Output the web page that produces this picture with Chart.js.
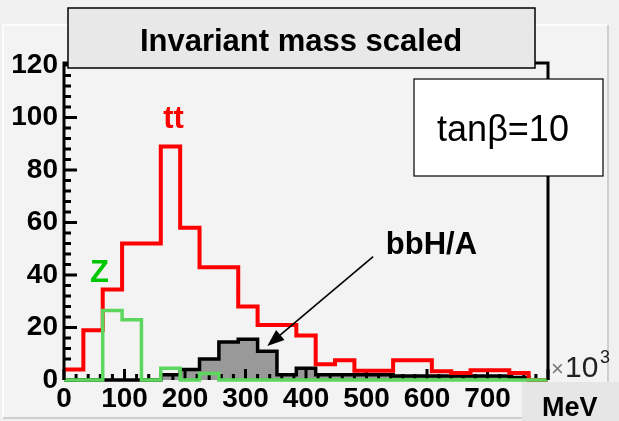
<!DOCTYPE html>
<html>
<head>
<meta charset="utf-8">
<script src="https://cdn.jsdelivr.net/npm/chart.js@4.4.1/dist/chart.umd.min.js"></script>
<style>
  html, body { margin: 0; padding: 0; background: #f0f0f0; }
  canvas { display: block; }
</style>
</head>
<body>
<canvas id="massChart" width="619" height="421"></canvas>
<script>
// bin edges, units of 10^3 MeV (25 bins)
const binEdges = [0, 32, 64, 96, 128, 160, 192, 224, 256, 288, 320, 352, 384, 416, 448, 480, 512, 544, 576, 608, 640, 672, 704, 736, 768, 800];

// counts per bin
const ttCounts = [4, 19, 34.5, 52, 52, 89, 58, 43, 43, 28, 21, 21, 17, 6, 7.5, 3.5, 3.5, 7.5, 7.5, 3.3, 2.7, 3.7, 3.7, 2.7, 0];
const zCounts = [0, 0, 26.5, 23, 0, 4.5, 0, 2.5, 0, 0, 0, 0, 0, 0, 0, 0, 0, 0, 0, 0, 0, 0, 0, 0, 0];
const bbhCounts = [0, 0, 0, 0, 0, 2, 4, 8, 14.5, 15.5, 11, 2, 4.5, 2, 2, 2, 2, 1.5, 1.5, 1.5, 1.5, 1.5, 1.5, 1, 0];

const xMin = 0, xMax = 800, xStep = 100;
const yMin = 0, yMax = 120, yStep = 20;

const FONT = "'Liberation Sans', Arial, Helvetica, sans-serif";

// point at each bin's left edge, plus the closing right edge
function toSteps(counts) {
  const pts = counts.map((c, i) => ({ x: binEdges[i], y: c }));
  pts.push({ x: binEdges[binEdges.length - 1], y: counts[counts.length - 1] });
  return pts;
}

// inward ROOT-style tick marks
function drawTicks(chart) {
  const ctx = chart.ctx;
  const xs = chart.scales.x, ys = chart.scales.y;
  const area = chart.chartArea;
  ctx.save();
  ctx.strokeStyle = '#000';
  ctx.lineWidth = 3;
  ctx.beginPath();
  for (let v = xMin; v <= xMax; v += 20) {
    const px = xs.getPixelForValue(v);
    const len = v % 100 === 0 ? 11 : 6;
    ctx.moveTo(px, area.bottom);
    ctx.lineTo(px, area.bottom - len);
  }
  for (let v = yMin; v <= yMax; v += 4) {
    const py = ys.getPixelForValue(v);
    const len = v % 20 === 0 ? 13 : 7;
    ctx.moveTo(area.left, py);
    ctx.lineTo(area.left + len, py);
  }
  ctx.stroke();
  ctx.restore();
}

function drawArrow(ctx, x1, y1, x2, y2) {
  const ang = Math.atan2(y2 - y1, x2 - x1);
  const head = 17, half = 6.5;
  ctx.beginPath();
  ctx.moveTo(x1, y1);
  ctx.lineTo(x2 - Math.cos(ang) * head * 0.8, y2 - Math.sin(ang) * head * 0.8);
  ctx.stroke();
  ctx.beginPath();
  ctx.moveTo(x2, y2);
  ctx.lineTo(x2 - head * Math.cos(ang) + half * Math.sin(ang), y2 - head * Math.sin(ang) - half * Math.cos(ang));
  ctx.lineTo(x2 - head * Math.cos(ang) - half * Math.sin(ang), y2 - head * Math.sin(ang) + half * Math.cos(ang));
  ctx.closePath();
  ctx.fill();
}

const rootStyle = {
  id: 'rootStyle',
  beforeDraw(chart) {
    const ctx = chart.ctx;
    ctx.save();
    ctx.fillStyle = '#f0f0f0';
    ctx.fillRect(0, 0, chart.width, chart.height);
    // pad with bevel
    ctx.fillStyle = '#f3f3f3';
    ctx.fillRect(3, 25, 605, 393);
    ctx.lineWidth = 1.5;
    ctx.strokeStyle = '#ffffff';
    ctx.beginPath();
    ctx.moveTo(3, 418); ctx.lineTo(3, 25); ctx.lineTo(608, 25);
    ctx.stroke();
    ctx.strokeStyle = '#c4c4c4';
    ctx.beginPath();
    ctx.moveTo(608, 25); ctx.lineTo(608, 418); ctx.lineTo(3, 418);
    ctx.stroke();
    ctx.restore();
  },
  afterDatasetDraw(chart, args) {
    // ticks go over the filled signal but under the other histograms
    if (args.index === 0) drawTicks(chart);
  },
  afterDatasetsDraw(chart) {
    const ctx = chart.ctx;
    const a = chart.chartArea;
    const xs = chart.scales.x, ys = chart.scales.y;
    ctx.save();
    // frame
    ctx.strokeStyle = '#000';
    ctx.lineWidth = 3;
    ctx.beginPath();
    ctx.moveTo(a.left, a.bottom);
    ctx.lineTo(a.left, a.top - 2);
    ctx.lineTo(a.right, a.top - 2);
    ctx.lineTo(a.right, a.bottom);
    ctx.stroke();

    // labels on the histograms
    ctx.font = 'bold 31px ' + FONT;
    ctx.textBaseline = 'alphabetic';
    ctx.textAlign = 'left';
    ctx.fillStyle = '#ff0000';
    ctx.fillText('tt', xs.getPixelForValue(164), ys.getPixelForValue(96));
    ctx.fillStyle = '#00c800';
    ctx.fillText('Z', xs.getPixelForValue(43), ys.getPixelForValue(37.5));
    ctx.fillStyle = '#000';
    ctx.fillText('bbH/A', xs.getPixelForValue(532), ys.getPixelForValue(48));

    ctx.strokeStyle = '#000';
    ctx.lineWidth = 1.6;
    drawArrow(ctx, xs.getPixelForValue(511), ys.getPixelForValue(47), xs.getPixelForValue(336), ys.getPixelForValue(13));

    // x10^3 multiplier
    ctx.fillStyle = '#777';
    ctx.font = '22px ' + FONT;
    ctx.fillText('\u00d7', a.right + 3, a.bottom - 4);
    ctx.fillStyle = '#222';
    ctx.font = '30px ' + FONT;
    ctx.fillText('10', a.right + 17, a.bottom - 3);
    ctx.font = '18px ' + FONT;
    ctx.fillText('3', a.right + 52, a.bottom - 17);
    ctx.restore();
  },
  afterDraw(chart) {
    const ctx = chart.ctx;
    ctx.save();
    // title pave
    ctx.fillStyle = '#e8e8e8';
    ctx.fillRect(68, 8, 467, 60);
    ctx.strokeStyle = '#000';
    ctx.lineWidth = 1.5;
    ctx.strokeRect(68, 8, 467, 60);
    ctx.fillStyle = '#000';
    ctx.font = 'bold 31px ' + FONT;
    ctx.textAlign = 'center';
    ctx.textBaseline = 'alphabetic';
    ctx.fillText('Invariant mass scaled', 301, 51);

    // tan beta pave
    ctx.fillStyle = '#ffffff';
    ctx.fillRect(414, 79, 189, 97);
    ctx.lineWidth = 1.2;
    ctx.strokeRect(414, 79, 189, 97);
    ctx.fillStyle = '#000';
    ctx.font = '36px ' + FONT;
    ctx.fillText('tan\u03b2=10', 503, 141);

    // axis unit box
    ctx.fillStyle = '#e6e6e6';
    ctx.fillRect(522, 382, 97, 39);
    ctx.fillStyle = '#000';
    ctx.font = 'bold 27px ' + FONT;
    ctx.textAlign = 'left';
    ctx.fillText('MeV', 542, 416);
    ctx.restore();
  }
};

const ctx = document.getElementById('massChart').getContext('2d');
const massChart = new Chart(ctx, {
  type: 'line',
  data: {
    datasets: [
      {
        label: 'bbH/A',
        data: toSteps(bbhCounts),
        stepped: 'before',
        borderColor: '#000000',
        borderWidth: 3.5,
        backgroundColor: '#999999',
        fill: 'origin',
        pointRadius: 0,
        clip: false,
        order: 3
      },
      {
        label: 'tt',
        data: toSteps(ttCounts),
        stepped: 'before',
        borderColor: '#ff0000',
        borderWidth: 4,
        fill: false,
        pointRadius: 0,
        clip: false,
        order: 2
      },
      {
        label: 'Z',
        data: toSteps(zCounts),
        stepped: 'before',
        borderColor: '#5cd65c',
        borderWidth: 3.5,
        fill: false,
        pointRadius: 0,
        clip: false,
        order: 1
      }
    ]
  },
  options: {
    responsive: false,
    animation: false,
    devicePixelRatio: 1,
    layout: { padding: { top: 65, right: 71, left: 0, bottom: 0 } },
    plugins: {
      legend: { display: false },
      tooltip: { enabled: false },
      title: { display: false }
    },
    scales: {
      x: {
        type: 'linear',
        min: xMin,
        max: xMax,
        grid: { display: false, drawTicks: false },
        border: { display: false },
        afterFit: (scale) => { scale.height = 41; },
        ticks: {
          stepSize: xStep,
          autoSkip: false,
          maxRotation: 0,
          padding: 2,
          color: '#000',
          font: { family: FONT, size: 28, weight: 'bold' },
          callback: (v) => (v === xMax ? '' : v)
        }
      },
      y: {
        type: 'linear',
        min: yMin,
        max: yMax,
        grid: { display: false, drawTicks: false },
        border: { display: false },
        afterFit: (scale) => { scale.width = 64; },
        ticks: {
          stepSize: yStep,
          padding: 6,
          color: '#000',
          font: { family: FONT, size: 28, weight: 'bold' }
        }
      }
    }
  },
  plugins: [rootStyle]
});
</script>
</body>
</html>
